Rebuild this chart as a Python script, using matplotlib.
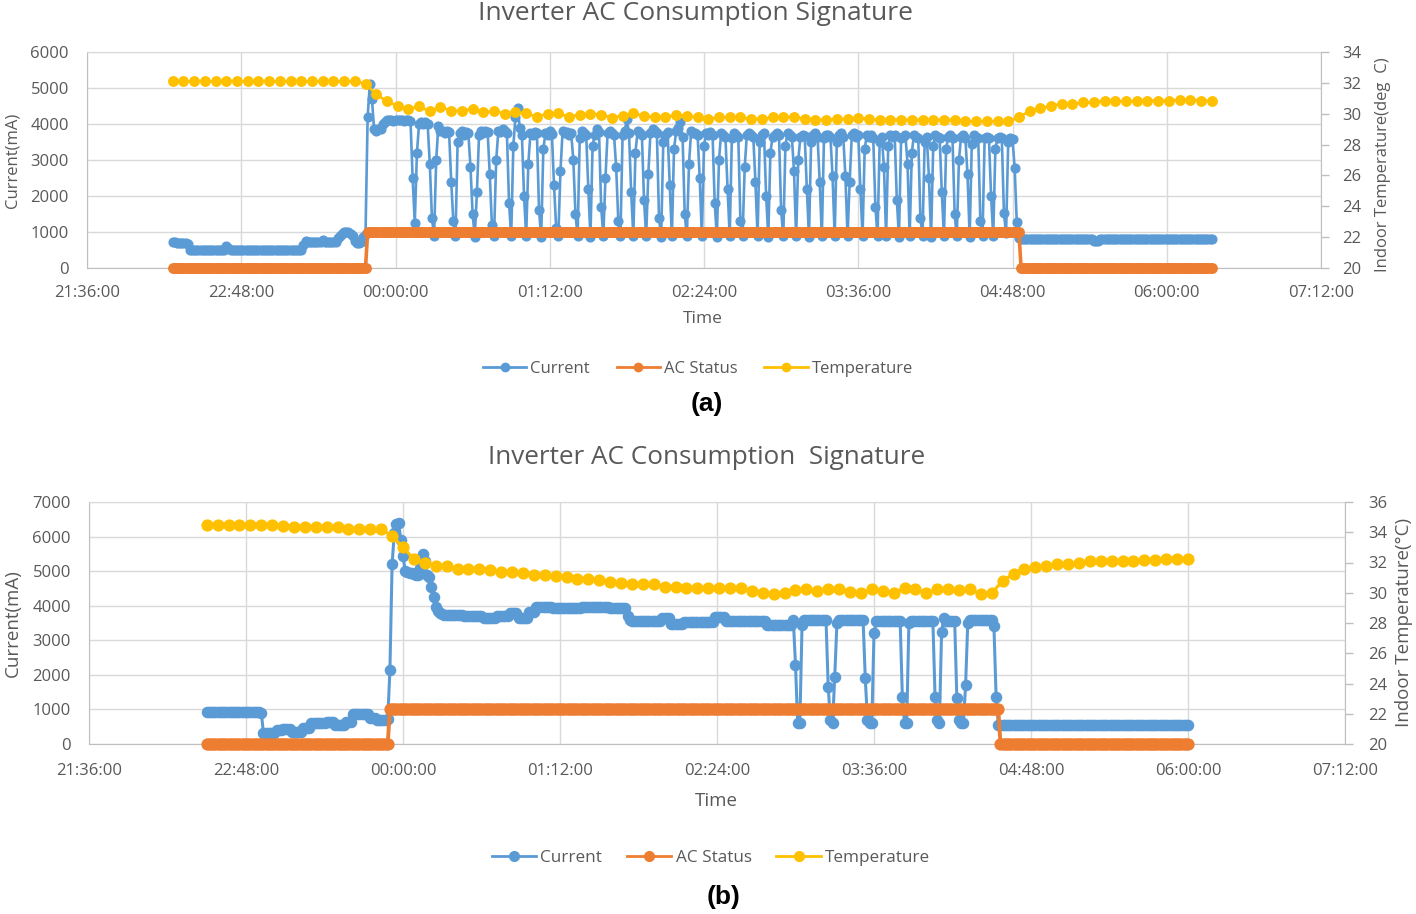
import numpy as np
import matplotlib
matplotlib.use("Agg")
import matplotlib.pyplot as plt
from matplotlib.lines import Line2D

plt.rcParams['font.family'] = ['Open Sans', 'DejaVu Sans']

BLUE = '#5B9BD5'
ORANGE = '#ED7D31'
YELLOW = '#FFC000'
TXT = '#595959'
GRID = '#D9D9D9'
AXIS = '#BFBFBF'

# ---------------- shared axis data ----------------
# x values are minutes after 21:36:00
xtick_minutes = [0, 72, 144, 216, 288, 360, 432, 504, 576]
xtick_labels = ['21:36:00', '22:48:00', '00:00:00', '01:12:00', '02:24:00',
                '03:36:00', '04:48:00', '06:00:00', '07:12:00']
series_names = ['Current', 'AC Status', 'Temperature']

# ---------------- panel (a) ----------------
a_cur_start = 40      # first current / status sample (minutes after 21:36), 1-min sampling
a_temp_start = 40     # first temperature sample, 5-min sampling

a_cur_pre = ([710, 710, 700, 700, 700, 700, 690, 680] +
             [510] * 17 + [600, 560] + [505] * 34 +
             [650, 760] + [720] * 7 + [780] + [730] * 6 +
             [820, 900, 950, 1000, 1010, 990, 950, 880, 760, 690, 700, 720, 850, 950,
              4200, 5100, 4700, 3850, 3800, 3850, 3850, 4000, 4050] +
             [4100, 4120, 4100, 4090, 4100, 4110, 4100, 4100, 4080, 4100, 4100, 4090])

a_cur_cycling = [
    2500, 1250, 3200, 4000, 4050, 4000, 4050, 4000, 2900, 1400,
    900, 3000, 3950, 3800, 3800, 3750, 3800, 3780, 2400, 1300,
    880, 3500, 3750, 3800, 3700, 3780, 3750, 2800, 1500,
    870, 2100, 3700, 3800, 3750, 3800, 3780, 2600, 1200,
    880, 3000, 3800, 3780, 3850, 3800, 3750, 1800,
    880, 3400, 4200, 4450, 3900, 3700, 2000,
    900, 2900, 3750, 3700, 3780, 3750, 1600,
    870, 3300, 3750, 3700, 3800, 3720, 2300, 1100,
    880, 2700, 3800, 3750, 3780, 3700, 3750, 3000, 1500,
    880, 3600, 3800, 3750, 3700, 2200,
    870, 3400, 3700, 3850, 3780, 1700,
    880, 2500, 3750, 3800, 3750, 3700, 2800, 1300,
    880, 3700, 3800, 4150, 3750, 2100,
    900, 3200, 3800, 3750, 3700, 1900,
    880, 2600, 3750, 3850, 3800, 3750, 1400,
    870, 3500, 3700, 3780, 2300,
    880, 3300, 3800, 3900, 4050, 3650, 1500,
    880, 2900, 3800, 3750, 3750, 3700, 2500,
    880, 3400, 3750, 3700, 3780, 3700, 1800,
    870, 3000, 3750, 3700, 3650, 2200,
    880, 3600, 3750, 3700, 3650, 1300,
    880, 2800, 3700, 3750, 3700, 3650, 2400,
    880, 3500, 3700, 3750, 2000,
    870, 3200, 3650, 3700, 3750, 3700, 1600,
    880, 3400, 3750, 3700, 3650, 2700,
    880, 3000, 3650, 3700, 3680, 2200,
    870, 3500, 3700, 3750, 3650, 2400,
    880, 3600, 3700, 3700, 3650, 2550,
    880, 3500, 3700, 3750, 3650, 2550,
    880, 2400, 3700, 3750, 3650, 3700, 2200,
    880, 3300, 3700, 3650, 3700, 3600, 1700,
    880, 3500, 3650, 2800,
    880, 3400, 3700, 3650, 3700, 1900,
    870, 3600, 3650, 3700, 2900,
    880, 3200, 3700, 3650, 3600, 1400,
    880, 3500, 3650, 2500,
    870, 3400, 3700, 3650, 3600, 2100,
    880, 3300, 3650, 3700, 3600, 1500,
    880, 3000, 3650, 3700, 3600, 2600,
    870, 3450, 3700, 3650, 3600, 1300,
    880, 3600, 3650, 3600, 2000,
    880, 3300, 3600, 3650, 3620, 1520, 970,
    3500, 3600, 3580, 2790, 1270, 820,
]

a_cur_post = [800] * 34 + [760, 740, 760] + [800] * 53

a_current = a_cur_pre + a_cur_cycling + a_cur_post
a_status = [0] * 91 + [1000] * 305 + [0] * 90

a_temp = ([32.1] * 18 +
          [31.95, 31.25, 30.8, 30.52, 30.32, 30.47, 30.15, 30.45, 30.19, 30.19,
           30.32, 30.08, 30.19, 30.0, 30.08, 30.02, 29.8, 30.0, 30.02, 29.8,
           29.94, 30.0, 29.94, 29.74, 29.87, 30.02, 29.87, 29.76, 29.76, 29.94,
           29.87, 29.76, 29.66, 29.76, 29.76, 29.76, 29.66, 29.66, 29.76, 29.76,
           29.8, 29.66, 29.6, 29.6, 29.66, 29.66, 29.72, 29.66] +
          [29.6] * 8 + [29.5] * 5 +
          [29.76, 30.19, 30.34, 30.52, 30.63, 30.63, 30.73, 30.73, 30.84, 30.8,
           30.8, 30.8, 30.84, 30.84, 30.84, 30.9, 30.9, 30.84, 30.84])

# ---------------- panel (b) ----------------
b_cur_start = 54
b_temp_start = 54

b_current = ([930] * 24 + [920, 900] +
             [330] * 6 + [400] * 3 + [440] * 4 + [340] * 5 + [470] * 4 +
             [600] * 7 + [650] * 4 + [560] * 5 + [640] * 3 + [880] * 8 +
             [740] * 3 + [700] * 5 + [720] +
             [2140, 5200, 6100, 6350, 6400, 5900, 5450, 5000, 4980, 4950, 4960, 4920,
              4900, 4880, 5100, 5500, 5300, 4900, 4840, 4550, 4260, 3950, 3850, 3800, 3750] +
             [3730] * 9 + [3700] * 9 + [3650] * 6 + [3700] * 6 + [3780] * 4 +
             [3640] * 5 + [3830] * 3 + [3970] * 8 + [3920] * 13 + [3950] * 13 +
             [3920] * 8 + [3700, 3600, 3570] + [3550] * 13 + [3640] * 4 +
             [3480] * 6 + [3520] * 14 + [3680] * 5 + [3560] * 19 + [3450] * 12 +
             [3600] + [2285, 600, 600, 3440] + [3580] * 11 +
             [1650, 690, 600, 1950] + [3500] + [3580] * 12 +
             [1900, 690, 600, 600, 3200] + [3550] * 12 +
             [1370, 600, 600] + [3500] + [3560] * 11 +
             [1370, 690, 600, 3250, 3640] + [3550] * 5 +
             [1320, 690, 600, 600, 1700] + [3500] + [3590] * 11 +
             [3400, 1370] + [560] * 88)
b_status = [0] * 84 + [1000] * 280 + [0] * 87

b_temp = [34.48, 34.48, 34.48, 34.48, 34.48, 34.48, 34.48, 34.4, 34.35, 34.35,
          34.35, 34.35, 34.35, 34.2, 34.2, 34.2, 34.2, 33.75, 33.0, 32.23,
          31.95, 31.77, 31.75, 31.6, 31.55, 31.55, 31.5, 31.4, 31.4, 31.3,
          31.17, 31.17, 31.1, 31.02, 30.9, 30.9, 30.84, 30.73, 30.62, 30.58,
          30.58, 30.58, 30.4, 30.36, 30.3, 30.3, 30.29, 30.29, 30.29, 30.29,
          30.14, 29.96, 29.92, 29.96, 30.18, 30.23, 30.14, 30.23, 30.23, 30.05,
          29.96, 30.23, 30.14, 29.96, 30.29, 30.23, 29.96, 30.23, 30.23, 30.2,
          30.23, 29.92, 29.96, 30.8, 31.24, 31.6, 31.68, 31.77, 31.9, 31.9,
          31.95, 32.1, 32.1, 32.1, 32.1, 32.1, 32.17, 32.17, 32.23, 32.23, 32.23]

# ---------------- figure ----------------
fig = plt.figure(figsize=(14.16, 9.14), dpi=100)


def panel(rect, cur_start, current, status, temp_start, temp, ymax, ystep,
          y2max, ms, lw, olw, xpad, ypad, y2pad):
    ax = fig.add_axes(rect)
    t_cur = cur_start + np.arange(len(current))
    t_temp = temp_start + 5 * np.arange(len(temp))
    ax.plot(t_cur, current, color=BLUE, lw=lw, marker='o', ms=ms, mec=BLUE,
            mfc=BLUE, clip_on=False, zorder=3)
    ax.plot(t_cur, status, color=ORANGE, lw=olw, marker='o', ms=ms + 0.5,
            mec=ORANGE, mfc=ORANGE, clip_on=False, zorder=4)
    ax.set_xlim(0, 576)
    ax.set_ylim(0, ymax)
    ax.set_xticks(xtick_minutes)
    ax.set_xticklabels(xtick_labels)
    ax.set_yticks(np.arange(0, ymax + 1, ystep))
    ax.grid(True, color=GRID, lw=1.0)
    ax.set_axisbelow(True)
    ax.tick_params(axis='both', length=0, colors=TXT, labelsize=12)
    ax.tick_params(axis='x', pad=xpad)
    ax.tick_params(axis='y', pad=ypad)
    for s in ['left', 'bottom']:
        ax.spines[s].set_color(AXIS)
    ax.spines['top'].set_color(GRID)
    ax.spines['right'].set_visible(False)

    ax2 = ax.twinx()
    ax2.plot(t_temp, temp, color=YELLOW, lw=lw, marker='o', ms=ms + 0.5,
             mec=YELLOW, mfc=YELLOW, clip_on=False, zorder=5)
    ax2.set_ylim(20, y2max)
    ax2.set_yticks(np.arange(20, y2max + 1, 2))
    ax2.tick_params(axis='y', length=6, width=1, color=AXIS, labelcolor=TXT,
                    labelsize=12, pad=y2pad)
    for s in ['left', 'bottom', 'top']:
        ax2.spines[s].set_visible(False)
    ax2.spines['right'].set_color(AXIS)
    return ax, ax2


W, H = 1416.0, 914.0

def fx(px):
    return px / W

def fy(py):
    return 1 - py / H

# Panel (a)
panel([fx(87), fy(268), fx(1321) - fx(87), fy(52) - fy(268)],
      a_cur_start, a_current, a_status, a_temp_start, a_temp,
      6000, 1000, 34, 6.3, 1.9, 2.6, 12, 13, 9)
fig.text(fx(695), fy(14), 'Inverter AC Consumption Signature', ha='center',
         va='center', fontsize=19, color=TXT)
fig.text(fx(13), fy(160), 'Current(mA)', rotation=90, ha='center', va='center',
         fontsize=12, color=TXT)
fig.text(fx(1383), fy(165), 'Indoor Temperature(deg  C)', rotation=90,
         ha='center', va='center', fontsize=12, color=TXT)
fig.text(fx(703), fy(319), 'Time', ha='center', va='center', fontsize=12.5, color=TXT)

# Panel (b)
panel([fx(89), fy(744), fx(1345) - fx(89), fy(502) - fy(744)],
      b_cur_start, b_current, b_status, b_temp_start, b_temp,
      7000, 1000, 36, 7.3, 2.2, 2.8, 14, 13, 11)
fig.text(fx(707), fy(457), 'Inverter AC Consumption  Signature', ha='center',
         va='center', fontsize=18.8, color=TXT)
fig.text(fx(13), fy(623), 'Current(mA)', rotation=90, ha='center', va='center',
         fontsize=13.5, color=TXT)
fig.text(fx(1404), fy(622), 'Indoor Temperature(°C)', rotation=90,
         ha='center', va='center', fontsize=13.5, color=TXT)
fig.text(fx(716), fy(801), 'Time', ha='center', va='center', fontsize=13.5, color=TXT)


def legend(cx, cy, ms, fs, cs):
    handles = [Line2D([], [], color=c, lw=2, marker='o', ms=ms)
               for c in (BLUE, ORANGE, YELLOW)]
    lg = fig.legend(handles, series_names, loc='center',
                    bbox_to_anchor=(fx(cx), fy(cy)), ncol=3, frameon=False,
                    fontsize=fs, handlelength=2.6, handletextpad=0.25,
                    columnspacing=cs)
    for t in lg.get_texts():
        t.set_color(TXT)


legend(698, 369, 6, 12, 1.6)
legend(711, 858, 7, 12.3, 1.45)

fig.text(fx(707), fy(404), '(a)', ha='center', va='center', fontsize=19,
         fontweight='bold', family=['Liberation Sans', 'DejaVu Sans'], color='black')
fig.text(fx(724), fy(897), '(b)', ha='center', va='center', fontsize=19,
         fontweight='bold', family=['Liberation Sans', 'DejaVu Sans'], color='black')

fig.savefig('out.png', dpi=100)
